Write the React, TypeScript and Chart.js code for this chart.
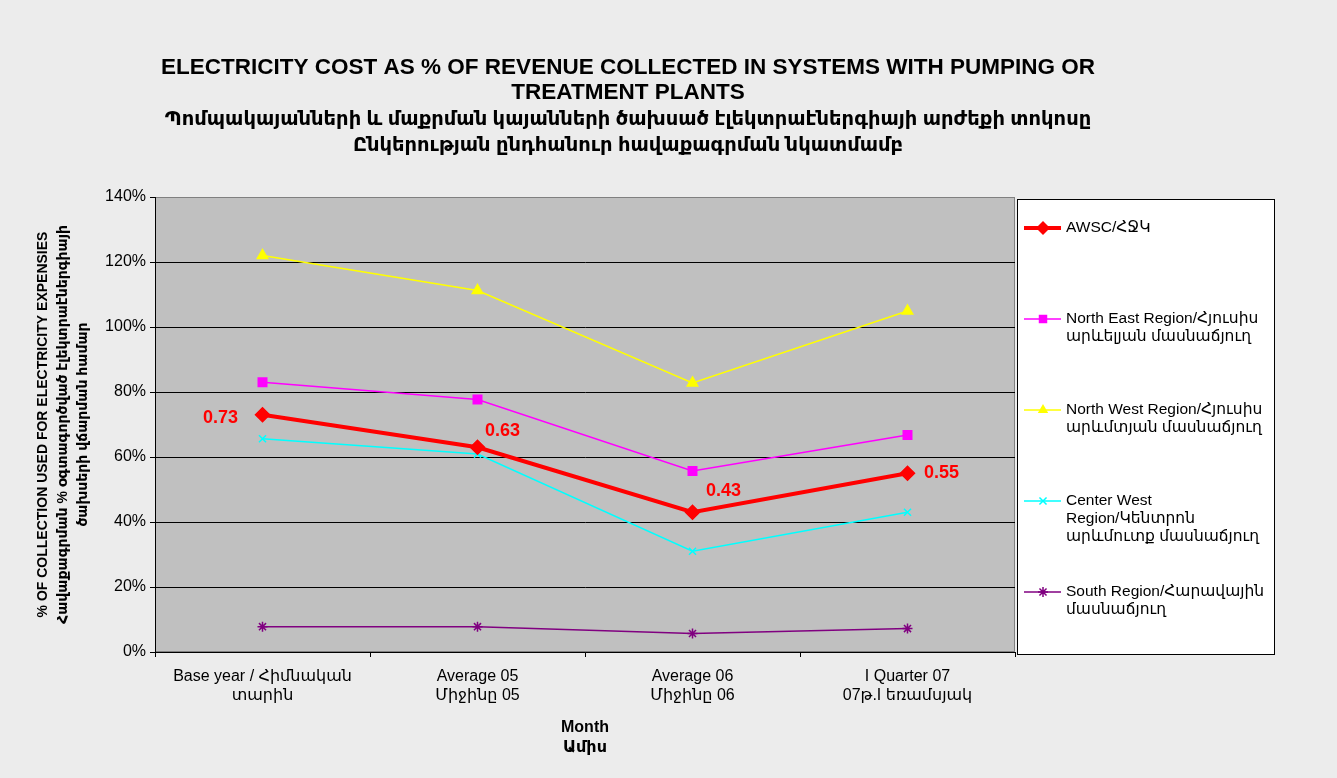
import React, { useEffect, useRef } from "react";
import { Chart, registerables } from "chart.js";

Chart.register(...registerables);

const FONT = "'Liberation Sans', 'DejaVu Sans', Arial, sans-serif";

// ---------- data ----------
const categories: string[][] = [
  ["Base year / Հիմնական", "տարին"],
  ["Average 05", "Միջինը 05"],
  ["Average 06", "Միջինը 06"],
  ["I Quarter 07", "07թ.I եռամսյակ"],
];

const awsc = [0.73, 0.63, 0.43, 0.55];
const northEast = [0.83, 0.777, 0.557, 0.668];
const northWest = [1.22, 1.112, 0.828, 1.049];
const centerWest = [0.656, 0.609, 0.31, 0.43];
const south = [0.078, 0.078, 0.057, 0.072];

const awscLabels = ["0.73", "0.63", "0.43", "0.55"];

const seriesNames: string[][] = [
  ["AWSC/ՀՋԿ"],
  ["North East Region/Հյուսիս", "արևելյան մասնաճյուղ"],
  ["North West Region/Հյուսիս", "արևմտյան մասնաճյուղ"],
  ["Center West", "Region/Կենտրոն", "արևմուտք մասնաճյուղ"],
  ["South Region/Հարավային", "մասնաճյուղ"],
];

const titleLines = [
  "ELECTRICITY COST AS % OF REVENUE COLLECTED IN SYSTEMS WITH PUMPING OR",
  "TREATMENT PLANTS",
  "Պոմպակայանների և մաքրման կայանների ծախսած էլեկտրաէներգիայի արժեքի տոկոսը",
  "Ընկերության ընդհանուր հավաքագրման նկատմամբ",
];

const yTitle = [
  "% OF COLLECTION USED FOR ELECTRICITY EXPENSIES",
  "Հավաքագրման % օգտագործված էլեկտրաէներգիայի",
  "ծախսերի վճարման համար",
];

const xTitle = ["Month", "Ամիս"];

const Y_MIN = 0;
const Y_MAX = 1.4;
const Y_STEP = 0.2;

// ---------- styles ----------
const colors = ["#ff0000", "#ff00ff", "#ffff00", "#00ffff", "#800080"];
const pointStyles = ["rectRot", "rect", "triangle", "crossRot", "star"];
const pointRadii = [7, 6, 6, 5, 5];
const lineWidths = [4, 1.5, 1.5, 1.5, 1.5];
// label offsets (px) relative to each AWSC point
const labelOffsets = [
  [-42, 3],
  [25, -16],
  [31, -21],
  [34, 0],
];

function drawMarker(ctx: CanvasRenderingContext2D, style: string, x: number, y: number, r: number, color: string) {
  ctx.save();
  ctx.fillStyle = color;
  ctx.strokeStyle = color;
  ctx.lineWidth = 1.5;
  ctx.beginPath();
  if (style === "rectRot") {
    ctx.moveTo(x, y - r);
    ctx.lineTo(x + r, y);
    ctx.lineTo(x, y + r);
    ctx.lineTo(x - r, y);
    ctx.closePath();
    ctx.fill();
  } else if (style === "rect") {
    const s = r * Math.SQRT1_2;
    ctx.rect(x - s, y - s, 2 * s, 2 * s);
    ctx.fill();
  } else if (style === "triangle") {
    const h = (3 * r) / Math.sqrt(3);
    ctx.moveTo(x, y - r);
    ctx.lineTo(x + h / 2, y + r * 0.5);
    ctx.lineTo(x - h / 2, y + r * 0.5);
    ctx.closePath();
    ctx.fill();
  } else if (style === "crossRot") {
    const d = r * Math.SQRT1_2;
    ctx.moveTo(x - d, y - d);
    ctx.lineTo(x + d, y + d);
    ctx.moveTo(x + d, y - d);
    ctx.lineTo(x - d, y + d);
    ctx.stroke();
  } else if (style === "star") {
    const d = r * Math.SQRT1_2;
    ctx.moveTo(x - d, y - d);
    ctx.lineTo(x + d, y + d);
    ctx.moveTo(x + d, y - d);
    ctx.lineTo(x - d, y + d);
    ctx.moveTo(x, y - r);
    ctx.lineTo(x, y + r);
    ctx.moveTo(x - r, y);
    ctx.lineTo(x + r, y);
    ctx.stroke();
  }
  ctx.restore();
}

const decorPlugin = {
  id: "decor",
  beforeDraw(chart: any) {
    const { ctx, chartArea: a, width, height } = chart;
    ctx.save();
    ctx.fillStyle = "#ececec";
    ctx.fillRect(0, 0, width, height);
    ctx.fillStyle = "#c0c0c0";
    ctx.fillRect(a.left, a.top, a.right - a.left, a.bottom - a.top);
    ctx.strokeStyle = "#808080";
    ctx.lineWidth = 1;
    ctx.strokeRect(a.left + 0.5, a.top + 0.5, a.right - a.left - 1, a.bottom - a.top - 1);
    ctx.restore();
  },
  afterDatasetsDraw(chart: any) {
    const { ctx } = chart;
    const meta = chart.getDatasetMeta(0);
    ctx.save();
    ctx.fillStyle = "#ff0000";
    ctx.font = `bold 18px ${FONT}`;
    ctx.textAlign = "center";
    ctx.textBaseline = "middle";
    meta.data.forEach((pt: any, i: number) => {
      const [dx, dy] = labelOffsets[i];
      ctx.fillText(awscLabels[i], pt.x + dx, pt.y + dy);
    });
    ctx.restore();
  },
  afterDraw(chart: any) {
    const { ctx } = chart;
    ctx.save();
    // title
    ctx.fillStyle = "#000";
    ctx.textAlign = "center";
    ctx.textBaseline = "middle";
    const ty = [68, 93, 120, 146];
    titleLines.forEach((t, i) => {
      ctx.font = `bold ${i < 2 ? 22.5 : 19.5}px ${FONT}`;
      ctx.fillText(t, 628, ty[i]);
    });
    // legend box
    const lx = 1017, ly = 199, lw = 257, lh = 455;
    ctx.fillStyle = "#ffffff";
    ctx.fillRect(lx, ly, lw, lh);
    ctx.strokeStyle = "#000";
    ctx.lineWidth = 1;
    ctx.strokeRect(lx + 0.5, ly + 0.5, lw, lh);
    ctx.font = `15.5px ${FONT}`;
    ctx.textAlign = "left";
    ctx.textBaseline = "middle";
    seriesNames.forEach((lines, i) => {
      const y0 = ly + 29 + i * 91;
      ctx.strokeStyle = colors[i];
      ctx.lineWidth = lineWidths[i];
      ctx.beginPath();
      ctx.moveTo(lx + 7, y0);
      ctx.lineTo(lx + 44, y0);
      ctx.stroke();
      drawMarker(ctx, pointStyles[i], lx + 26, y0, pointRadii[i], colors[i]);
      ctx.fillStyle = "#000";
      lines.forEach((l, j) => ctx.fillText(l, lx + 49, y0 + j * 18));
    });
    ctx.restore();
  },
};

export default function App() {
  const ref = useRef<HTMLCanvasElement | null>(null);
  useEffect(() => {
    if (!ref.current) return;
    const series = [awsc, northEast, northWest, centerWest, south];
    const chart = new Chart(ref.current, {
      type: "line",
      data: {
        labels: categories,
        datasets: series.map((d, i) => ({
          label: seriesNames[i].join(" "),
          data: d,
          borderColor: colors[i],
          backgroundColor: colors[i],
          borderWidth: lineWidths[i],
          pointStyle: pointStyles[i] as any,
          pointRadius: pointRadii[i],
          pointBorderColor: colors[i],
          pointBackgroundColor: colors[i],
          pointBorderWidth: 1.5,
          tension: 0,
          fill: false,
        })),
      },
      options: {
        animation: false,
        responsive: false,
        devicePixelRatio: 1,
        layout: { padding: { left: 33, top: 197, right: 322, bottom: 20 } },
        plugins: {
          legend: { display: false },
          title: { display: false },
          tooltip: { enabled: false },
        },
        scales: {
          x: {
            type: "category",
            offset: true,
            grid: {
              offset: true,
              drawOnChartArea: false,
              drawTicks: true,
              tickLength: 5,
              color: "#000",
            },
            border: { color: "#000", width: 1 },
            ticks: {
              color: "#000",
              font: { family: FONT, size: 16, lineHeight: 1.2 },
              padding: 10,
              maxRotation: 0,
              autoSkip: false,
            },
            title: {
              display: true,
              text: xTitle,
              color: "#000",
              font: { family: FONT, size: 16, weight: "bold", lineHeight: 1.25 },
              padding: 0,
            },
            afterFit: (s: any) => {
              s.height = 106;
            },
          },
          y: {
            min: Y_MIN,
            max: Y_MAX,
            grid: {
              color: (c: any) => (c.tick && c.tick.value >= Y_MAX - 1e-9 ? "#808080" : "#000"),
              tickColor: "#000",
              tickLength: 5,
              lineWidth: 1,
            },
            border: { color: "#000", width: 1 },
            ticks: {
              stepSize: Y_STEP,
              color: "#000",
              padding: 4,
              font: { family: FONT, size: 16 },
              callback: (v: any) => `${Math.round(Number(v) * 100)}%`,
            },
            title: {
              display: true,
              text: yTitle,
              color: "#000",
              font: { family: FONT, size: 14, weight: "bold", lineHeight: 1.43 },
              padding: 0,
            },
            afterFit: (s: any) => {
              s.width = 122;
            },
          },
        },
      },
      plugins: [decorPlugin],
    });
    return () => chart.destroy();
  }, []);
  return (
    <div style={{ position: "absolute", left: 0, top: 0, width: 1337, height: 778 }}>
      <canvas ref={ref} width={1337} height={778} style={{ display: "block" }} />
    </div>
  );
}
